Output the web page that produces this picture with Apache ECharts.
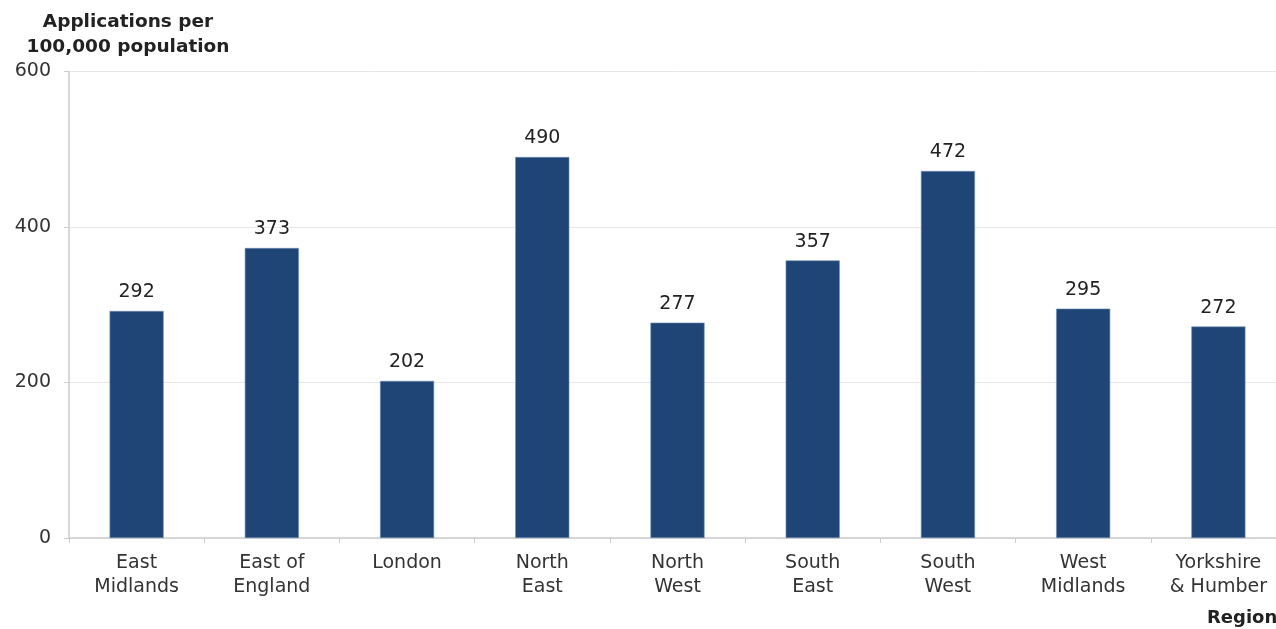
<!DOCTYPE html>
<html><head><meta charset="utf-8">
<script src="https://cdn.jsdelivr.net/npm/echarts@6/dist/echarts.min.js"></script>
<style>html,body{margin:0;padding:0;background:#fff;overflow:hidden;width:1276px;height:629px}#c{width:1292px;height:629px}</style>
</head><body><div id="c"></div>
<script>
const categories = ["East\nMidlands","East of\nEngland","London","North\nEast","North\nWest","South\nEast","South\nWest","West\nMidlands","Yorkshire\n& Humber"];
const values = [292,373,202,490,277,357,472,295,272];
const yTicks = [0,200,400,600];
const yTitle = "Applications per\n100,000 population";
const xTitle = "Region";

const FONT = 'DejaVu Sans, Liberation Sans, Arial, sans-serif';
const chart = echarts.init(document.getElementById('c'));
chart.setOption({
  animation:false,
  textStyle:{fontFamily:FONT},
  grid:{left:69,right:6,top:71.5,bottom:91,containLabel:false},
  graphic:[
    {type:'text',x:128,y:10,style:{text:yTitle,font:'bold 18.5px '+FONT,fill:'#222',lineHeight:25,align:'center',textAlign:'center'}},
    {type:'text',x:1207,y:609,style:{text:xTitle,font:'bold 18px '+FONT,fill:'#222'}}
  ],
  xAxis:{type:'category',data:categories,
    axisLine:{lineStyle:{color:'#cccccc',width:1.5}},
    axisTick:{show:true,length:5,lineStyle:{color:'#cccccc'}},
    axisLabel:{color:'#333',fontSize:19,lineHeight:24,margin:13,fontFamily:FONT}
  },
  yAxis:{type:'value',min:0,max:600,interval:200,
    axisLine:{show:true,lineStyle:{color:'#cccccc',width:1.5}},
    axisTick:{show:true,length:5,lineStyle:{color:'#cccccc'}},
    axisLabel:{color:'#333',fontSize:19,margin:18,fontFamily:FONT,formatter:v=>yTicks.includes(v)?String(v):''},
    splitLine:{lineStyle:{color:'#e8e8e8',width:1}}
  },
  series:[{type:'bar',data:values,barWidth:'40%',
    itemStyle:{color:'#1f4576',borderColor:'#6f8fb5',borderWidth:0.6},
    label:{show:true,position:'top',distance:9,color:'#222',fontSize:19,fontFamily:FONT}
  }]
});
</script></body></html>
